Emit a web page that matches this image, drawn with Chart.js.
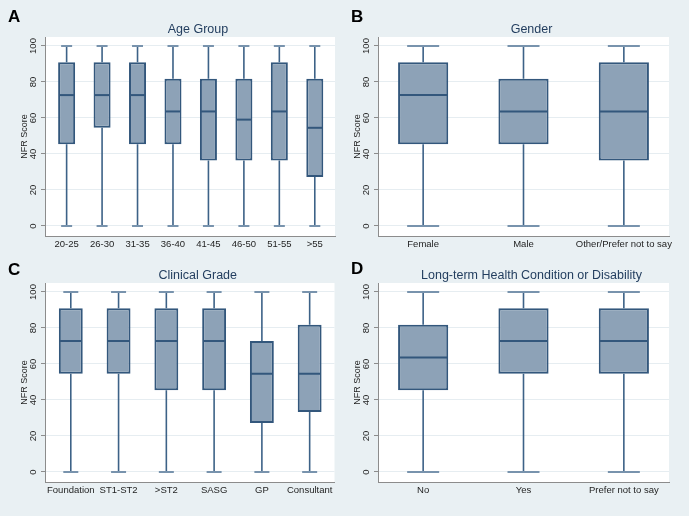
<!DOCTYPE html>
<html><head><meta charset="utf-8">
<script src="https://cdn.jsdelivr.net/npm/chart.js@4.4.0/dist/chart.umd.min.js"></script>
<style>
html,body{margin:0;padding:0;background:#e9f0f3;width:689px;height:516px;overflow:hidden}
canvas{position:absolute}
</style></head><body>
<canvas id="cA"></canvas><canvas id="cB"></canvas><canvas id="cC"></canvas><canvas id="cD"></canvas>
<script>
// ---------- data ----------
const yTicks = [0, 20, 40, 60, 80, 100];

const ageGroups = ['20-25', '26-30', '31-35', '36-40', '41-45', '46-50', '51-55', '>55'];
const ageMin = [0, 0, 0, 0, 0, 0, 0, 0];
const ageQ1  = [45.45, 54.55, 45.45, 45.45, 36.36, 36.36, 36.36, 27.27];
const ageMed = [72.73, 72.73, 72.73, 63.64, 63.64, 59.09, 63.64, 54.55];
const ageQ3  = [90.91, 90.91, 90.91, 81.82, 81.82, 81.82, 90.91, 81.82];
const ageMax = [100, 100, 100, 100, 100, 100, 100, 100];

const genders = ['Female', 'Male', 'Other/Prefer not to say'];
const genMin = [0, 0, 0];
const genQ1  = [45.45, 45.45, 36.36];
const genMed = [72.73, 63.64, 63.64];
const genQ3  = [90.91, 81.82, 90.91];
const genMax = [100, 100, 100];

const grades = ['Foundation', 'ST1-ST2', '>ST2', 'SASG', 'GP', 'Consultant'];
const grdMin = [0, 0, 0, 0, 0, 0];
const grdQ1  = [54.55, 54.55, 45.45, 45.45, 27.27, 33.33];
const grdMed = [72.73, 72.73, 72.73, 72.73, 54.55, 54.55];
const grdQ3  = [90.91, 90.91, 90.91, 90.91, 72.73, 81.82];
const grdMax = [100, 100, 100, 100, 100, 100];

const health = ['No', 'Yes', 'Prefer not to say'];
const hltMin = [0, 0, 0];
const hltQ1  = [45.45, 54.55, 54.55];
const hltMed = [63.64, 72.73, 72.73];
const hltQ3  = [81.82, 90.91, 90.91];
const hltMax = [100, 100, 100];

// ---------- styles ----------
Chart.defaults.font.family = "'Liberation Sans', Arial, sans-serif";
const BOX = '#8da2b7', EDGE = '#33577c', WHISK = '#3d6287', CAP = '#7893ad';
const AXIS = '#8c8c8c', GRID = '#e6edf1', TXT = '#1e1e1e', TITLE = '#233e5f';

const decor = {
  id: 'decor',
  beforeDraw(chart) {
    const {ctx, chartArea: a} = chart;
    ctx.save(); ctx.fillStyle = '#ffffff';
    ctx.fillRect(a.left, a.top, a.right - a.left, a.bottom - a.top);
    ctx.restore();
  },
  afterDraw(chart, args, o) {
    const {ctx, chartArea: a} = chart;
    ctx.save();
    ctx.fillStyle = '#000';
    ctx.font = "bold 17px 'Liberation Sans', Arial, sans-serif";
    ctx.textAlign = 'left'; ctx.textBaseline = 'alphabetic';
    ctx.fillText(o.letter, o.lx, o.ly);
    ctx.fillStyle = TITLE;
    ctx.font = "12.5px 'Liberation Sans', Arial, sans-serif";
    ctx.textAlign = 'center';
    ctx.fillText(o.title, (a.left + a.right) / 2 + 8, a.top - 4.5);
    ctx.restore();
  }
};

function panel(id, g, cats, mn, q1, md, q3, mx) {
  const cv = document.getElementById(id);
  cv.width = g.w; cv.height = g.h;
  cv.style.left = g.x + 'px'; cv.style.top = g.y + 'px';
  cv.style.width = g.w + 'px'; cv.style.height = g.h + 'px';
  const xs = cats.map((_, i) => i + 1);
  const bw = 2;
  const whisk = [];
  xs.forEach((x, i) => {
    whisk.push({x, y: mx[i]}, {x, y: q3[i]}, {x, y: null}, {x, y: q1[i]}, {x, y: mn[i]}, {x, y: null});
  });
  const caps = [];
  xs.forEach((x, i) => { caps.push({x, y: mx[i]}, {x, y: mn[i]}); });
  const halfBox = c => {
    const s = c.chart.scales.x;
    return Math.abs(s.getPixelForValue(2) - s.getPixelForValue(1)) * g.bp / 2 - 1;
  };
  new Chart(cv, {
    type: 'bar',
    data: {
      datasets: [
        {type: 'scatter', data: xs.map((x, i) => ({x, y: md[i]})), showLine: false, pointStyle: 'line',
         pointRadius: halfBox, pointBorderWidth: 2, pointBorderColor: EDGE, borderColor: EDGE, order: -1},
        {type: 'bar', data: xs.map((x, i) => ({x, y: [q1[i], q3[i]]})), backgroundColor: BOX, borderColor: EDGE,
         borderWidth: bw, borderSkipped: false, grouped: false, inflateAmount: 0,
         barPercentage: g.bp, categoryPercentage: 1, order: 0},
        {type: 'scatter', data: caps, showLine: false, pointStyle: 'line', pointRadius: g.cap,
         pointBorderWidth: 2, pointBorderColor: CAP, borderColor: CAP, order: 1},
        {type: 'line', data: whisk, borderColor: WHISK, borderWidth: 1.6, pointRadius: 0, spanGaps: false, fill: false, order: 2}
      ]
    },
    options: {
      responsive: false, animation: false, events: [],
      layout: {padding: {left: 0, right: g.pr, top: g.pt, bottom: g.pb}},
      plugins: {legend: {display: false}, tooltip: {enabled: false},
        decor: {letter: g.letter, title: g.title, lx: g.lx, ly: g.ly}},
      scales: {
        x: {type: 'linear', min: 1 - g.padL, max: cats.length + g.padR, offset: false,
          afterBuildTicks: s => { s.ticks = xs.map(v => ({value: v})); },
          ticks: {autoSkip: false, minRotation: 0, maxRotation: 0, padding: 3, color: TXT,
            font: {size: 9.5}, callback: v => cats[v - 1] ?? ''},
          grid: {display: false, drawTicks: false}, border: {display: true, color: AXIS, width: 1},
          afterFit: s => { s.height = 20; }
        },
        y: {type: 'linear', min: -5.56, max: 105,
          afterBuildTicks: s => { s.ticks = yTicks.map(v => ({value: v})); },
          ticks: {minRotation: 90, maxRotation: 90, crossAlign: 'center', padding: 0, color: TXT, font: {size: 9.5}},
          grid: {color: GRID, tickColor: AXIS, tickLength: 4, lineWidth: 1},
          border: {color: AXIS, width: 1},
          title: {display: true, text: 'NFR Score', color: TXT, font: {size: 9}, padding: {top: 19.6, bottom: 0}},
          afterFit: s => { s.width = 45; }
        }
      }
    },
    plugins: [decor]
  });
}

panel('cA', {x: 0, y: 0, w: 344, h: 256, pr: 9, pt: 37, pb: 0, padL: 0.61, padR: 0.57, bp: 0.48, cap: 5.5,
  letter: 'A', title: 'Age Group', lx: 8, ly: 22}, ageGroups, ageMin, ageQ1, ageMed, ageQ3, ageMax);
panel('cB', {x: 333, y: 0, w: 356, h: 256, pr: 20, pt: 37, pb: 0, padL: 0.45, padR: 0.45, bp: 0.5, cap: 16,
  letter: 'B', title: 'Gender', lx: 18, ly: 22}, genders, genMin, genQ1, genMed, genQ3, genMax);
panel('cC', {x: 0, y: 256, w: 344, h: 260, pr: 9, pt: 27, pb: 14, padL: 0.54, padR: 0.52, bp: 0.5, cap: 7.5,
  letter: 'C', title: 'Clinical Grade', lx: 8, ly: 19}, grades, grdMin, grdQ1, grdMed, grdQ3, grdMax);
panel('cD', {x: 333, y: 256, w: 356, h: 260, pr: 20, pt: 27, pb: 14, padL: 0.45, padR: 0.45, bp: 0.5, cap: 16,
  letter: 'D', title: 'Long-term Health Condition or Disability', lx: 18, ly: 18}, health, hltMin, hltQ1, hltMed, hltQ3, hltMax);
</script>
</body></html>
